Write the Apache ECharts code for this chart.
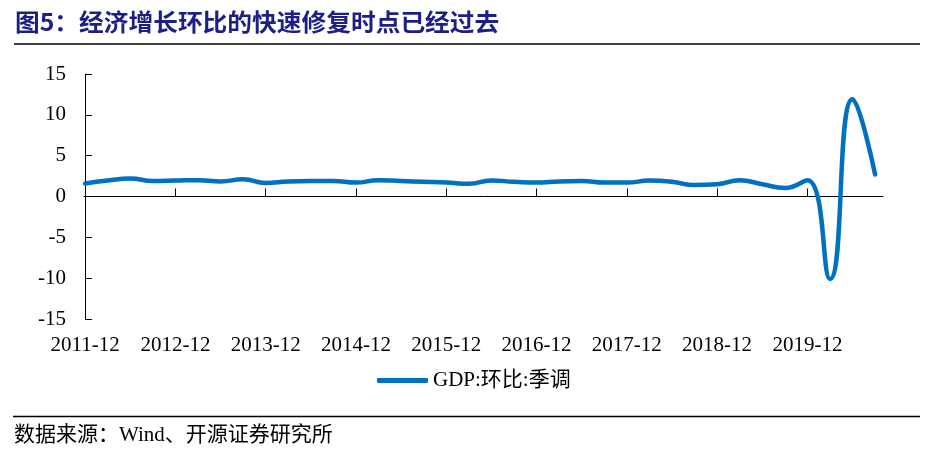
<!DOCTYPE html>
<html lang="zh">
<head>
<meta charset="UTF-8">
<title>图5</title>
<script src="https://cdn.jsdelivr.net/npm/echarts@6/dist/echarts.min.js"></script>
<style>
  html, body { margin: 0; padding: 0; background: #fff; }
  #main { width: 929px; height: 457px; }
</style>
</head>
<body>
<div id="main"></div>
<script>
// 季度（期末月）
var quarters = [
  '2011-12','2012-03','2012-06','2012-09','2012-12','2013-03','2013-06','2013-09',
  '2013-12','2014-03','2014-06','2014-09','2014-12','2015-03','2015-06','2015-09',
  '2015-12','2016-03','2016-06','2016-09','2016-12','2017-03','2017-06','2017-09',
  '2017-12','2018-03','2018-06','2018-09','2018-12','2019-03','2019-06','2019-09',
  '2019-12','2020-03','2020-06','2020-09'
];
// GDP:环比:季调 (%)
var gdpQoq = [
  1.6, 1.95, 2.2, 1.9, 1.95, 2.0, 1.85, 2.1,
  1.65, 1.85, 1.9, 1.9, 1.7, 2.0, 1.9, 1.8,
  1.7, 1.55, 1.95, 1.8, 1.7, 1.85, 1.9, 1.7,
  1.7, 1.95, 1.8, 1.4, 1.5, 2.0, 1.5, 1.05,
  2.0, -10.1, 11.9, 2.7
];
var yTicks = [-15, -10, -5, 0, 5, 10, 15];
var seriesName = 'GDP:环比:季调';

// 每年12月一个刻度
var labelIdx = [], tickIdx = [];
for (var i = 0; i < quarters.length; i++) {
  if (quarters[i].slice(5) === '12') {
    labelIdx.push(i);
    if (i > 0) tickIdx.push(i);
  }
}
var points = gdpQoq.map(function (v, i) { return [i, v]; });

var serif = "'Liberation Serif', 'Noto Sans CJK SC', serif";
var myChart = echarts.init(document.getElementById('main'));

var option = {
  animation: false,
  backgroundColor: '#fff',
  grid: { left: 84, right: 46, top: 74, bottom: 138 },
  xAxis: [
    {
      type: 'value', min: -0.05, max: quarters.length - 0.65,
      position: 'bottom',
      axisLine: { onZero: true, lineStyle: { color: '#000', width: 1 } },
      axisTick: { show: true, inside: true, length: 8, customValues: tickIdx, lineStyle: { color: '#000' } },
      axisLabel: { show: false },
      splitLine: { show: false }
    },
    {
      type: 'value', min: -0.05, max: quarters.length - 0.65,
      position: 'bottom',
      axisLine: { show: false, onZero: false },
      axisTick: { show: false },
      splitLine: { show: false },
      axisLabel: {
        customValues: labelIdx,
        margin: 16,
        color: '#000',
        fontFamily: serif,
        fontSize: 21,
        formatter: function (v) { return quarters[Math.round(v)]; }
      }
    }
  ],
  yAxis: {
    type: 'value', min: yTicks[0], max: yTicks[yTicks.length - 1], interval: 5,
    axisLine: { show: true, lineStyle: { color: '#000', width: 1 } },
    axisTick: { show: true, inside: true, length: 7, lineStyle: { color: '#000' } },
    axisLabel: { margin: 18, color: '#000', fontFamily: serif, fontSize: 21 },
    splitLine: { show: false }
  },
  legend: {
    data: [seriesName],
    left: 372, top: 365,
    icon: 'roundRect',
    itemWidth: 51, itemHeight: 5,
    textStyle: { color: '#000', fontFamily: serif, fontSize: 21 }
  },
  series: [{
    name: seriesName,
    type: 'line',
    xAxisIndex: 0,
    data: points,
    smooth: 0.5,
    showSymbol: false,
    symbol: 'none',
    itemStyle: { color: '#0070C0' },
    lineStyle: { color: '#0070C0', width: 4.5, cap: 'round', join: 'round' }
  }],
  graphic: [
    {
      type: 'text', x: 15, y: 10, scaleX: 1.03,
      style: {
        text: '图5：经济增长环比的快速修复时点已经过去',
        fill: '#1c1f86',
        font: "bold 24px 'Noto Sans CJK SC', sans-serif",
        textVerticalAlign: 'top'
      }
    },
    { type: 'line', shape: { x1: 14, y1: 44, x2: 920, y2: 44 }, style: { stroke: '#000', lineWidth: 1.5 } },
    { type: 'line', shape: { x1: 13, y1: 416.5, x2: 920, y2: 416.5 }, style: { stroke: '#000', lineWidth: 1.5 } },
    {
      type: 'text', x: 14, y: 425,
      style: {
        text: '数据来源：Wind、开源证券研究所',
        fill: '#000',
        font: "21px 'Liberation Serif', 'Noto Sans CJK SC', serif",
        textVerticalAlign: 'top'
      }
    }
  ]
};
myChart.setOption(option);
</script>
</body>
</html>
